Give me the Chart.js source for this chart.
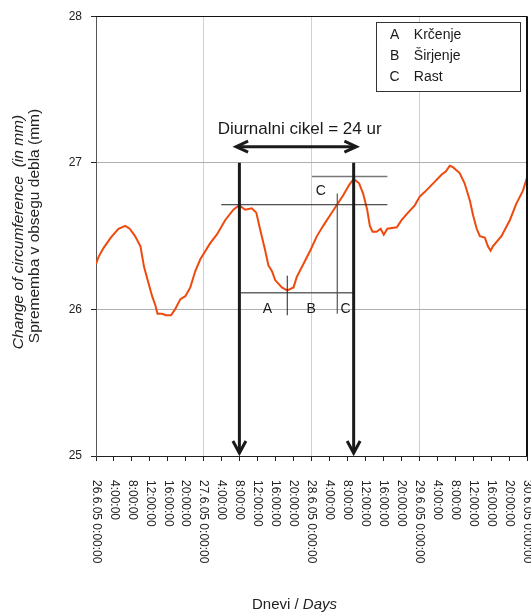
<!DOCTYPE html>
<html><head><meta charset="utf-8">
<script src="https://cdn.jsdelivr.net/npm/chart.js@4.4.0/dist/chart.umd.min.js"></script>
<style>html,body{margin:0;padding:0;background:#fff}canvas{display:block}</style>
</head><body>
<canvas id="c" width="531" height="615"></canvas>
<script>
// ---- data (hours since 26.6.05 0:00 / circumference change in mm) ----
const hours = [0, 0.6, 1.7, 3.3, 5.0, 6.5, 7.5, 8.7, 9.9, 10.7, 11.5, 12.5, 13.2, 13.7, 14.7, 15.6, 16.7, 17.6, 18.8, 19.9,
  21.0, 22.1, 23.2, 25.4, 26.9, 28.8, 30.6, 31.9, 33.2, 34.7, 35.7, 36.6, 37.7, 38.4, 39.2, 39.9, 41.4, 42.6, 44.0, 44.7,
  46.2, 47.7, 49.2, 50.6, 52.1, 53.6, 55.1, 56.4, 57.4, 58.6, 59.5, 60.4, 61.0, 61.6, 62.5, 63.4, 64.1, 64.9, 67.0, 68.1,
  69.5, 71.0, 72.1, 73.2, 75.1, 77.0, 77.9, 78.8, 79.5, 81.0, 82.1, 83.3, 84.0, 84.8, 85.5, 86.6, 87.3, 87.9, 88.4, 90.3,
  92.2, 93.6, 95.1, 96];
const values = [26.31, 26.36, 26.42, 26.49, 26.55, 26.57, 26.55, 26.50, 26.43, 26.29, 26.20, 26.09, 26.03, 25.97, 25.97, 25.96, 25.96, 26.00, 26.07, 26.09,
  26.15, 26.26, 26.34, 26.45, 26.51, 26.61, 26.68, 26.71, 26.68, 26.69, 26.66, 26.54, 26.40, 26.30, 26.26, 26.20, 26.15, 26.13, 26.15, 26.22,
  26.31, 26.40, 26.50, 26.57, 26.64, 26.71, 26.78, 26.85, 26.89, 26.86, 26.79, 26.68, 26.57, 26.53, 26.53, 26.55, 26.51, 26.55, 26.56, 26.61,
  26.66, 26.71, 26.77, 26.80, 26.86, 26.92, 26.94, 26.98, 26.97, 26.93, 26.86, 26.74, 26.64, 26.55, 26.50, 26.49, 26.43, 26.40, 26.43, 26.50,
  26.61, 26.72, 26.81, 26.90];
const tickLabels = ['26.6.05 0:00:00', '4:00:00', '8:00:00', '12:00:00', '16:00:00', '20:00:00',
  '27.6.05 0:00:00', '4:00:00', '8:00:00', '12:00:00', '16:00:00', '20:00:00',
  '28.6.05 0:00:00', '4:00:00', '8:00:00', '12:00:00', '16:00:00', '20:00:00',
  '29.6.05 0:00:00', '4:00:00', '8:00:00', '12:00:00', '16:00:00', '20:00:00',
  '30.6.05 0:00:00'];
const legendLetters = ['A', 'B', 'C'];
const legendNames = ['Krčenje', 'Širjenje', 'Rast'];
const cycleText = 'Diurnalni cikel = 24 ur';
const yTitle1 = 'Change of circumference  (in mm)';
const yTitle2 = 'Sprememba v obsegu debla (mm)';
const xTitleA = 'Dnevi / ';
const xTitleB = 'Days';

const FONT = "'Liberation Sans', Arial, sans-serif";
Chart.defaults.font.family = FONT;

function arrowHead(ctx, tx, ty, dx, dy, len, half) {
  ctx.beginPath();
  ctx.moveTo(tx - dx * len - dy * half, ty - dy * len + dx * half);
  ctx.lineTo(tx, ty);
  ctx.lineTo(tx - dx * len + dy * half, ty - dy * len - dx * half);
  ctx.stroke();
}

const deco = {
  id: 'deco',
  afterDraw(chart) {
    const ctx = chart.ctx, a = chart.chartArea;
    const xs = chart.scales.x, ys = chart.scales.y;
    const X = v => xs.getPixelForValue(v), Y = v => ys.getPixelForValue(v);
    ctx.save();
    // plot border top/right
    ctx.strokeStyle = '#111'; ctx.lineWidth = 1;
    ctx.beginPath(); ctx.moveTo(a.left, Math.round(a.top) + 0.5); ctx.lineTo(a.right, Math.round(a.top) + 0.5); ctx.stroke();
    ctx.lineWidth = 2;
    ctx.beginPath(); ctx.moveTo(a.right, a.top); ctx.lineTo(a.right, a.bottom); ctx.stroke();

    // thin reference lines
    const seg = (x1, y1, x2, y2, col, w) => {
      ctx.strokeStyle = col; ctx.lineWidth = w;
      ctx.beginPath(); ctx.moveTo(X(x1), Y(y1)); ctx.lineTo(X(x2), Y(y2)); ctx.stroke();
    };
    seg(27.9, 26.714, 64.9, 26.714, '#222', 1);
    seg(48.1, 26.907, 64.9, 26.907, '#777', 1.5);
    seg(32.2, 26.113, 57.4, 26.113, '#666', 1.5);
    seg(42.6, 26.23, 42.6, 25.96, '#222', 1);
    seg(53.74, 26.79, 53.74, 25.97, '#555', 1.2);

    // thick verticals with arrowheads
    ctx.strokeStyle = '#1a1a1a'; ctx.lineWidth = 3; ctx.lineJoin = 'miter';
    [31.94, 57.39].forEach(h => {
      const x = X(h);
      ctx.beginPath(); ctx.moveTo(x, Y(27.0)); ctx.lineTo(x, Y(25.02)); ctx.stroke();
      arrowHead(ctx, x, Y(25.02), 0, 1, 12, 6.5);
    });
    // double arrow
    const ya = Y(27.11), xl = X(31.2), xr = X(58.0);
    ctx.beginPath(); ctx.moveTo(xl + 1, ya); ctx.lineTo(xr - 1, ya); ctx.stroke();
    arrowHead(ctx, xl, ya, -1, 0, 12, 5.5);
    arrowHead(ctx, xr, ya, 1, 0, 12, 5.5);

    // texts
    ctx.fillStyle = '#1a1a1a'; ctx.textBaseline = 'middle'; ctx.textAlign = 'center';
    ctx.font = '17px ' + FONT;
    ctx.fillText(cycleText, X(45.35), Y(27.23));
    ctx.font = '14px ' + FONT;
    ctx.fillText('A', X(38.2), Y(26.0));
    ctx.fillText('B', X(47.9), Y(26.0));
    ctx.fillText('C', X(55.6), Y(26.0));
    ctx.fillText('C', X(50.05), Y(26.81));

    // legend box
    const bx1 = X(62.46), bx2 = X(94.53), by1 = Y(27.958), by2 = Y(27.488);
    ctx.fillStyle = '#fff'; ctx.fillRect(bx1, by1, bx2 - bx1, by2 - by1);
    ctx.strokeStyle = '#333'; ctx.lineWidth = 1;
    ctx.strokeRect(Math.round(bx1) + 0.5, Math.round(by1) + 0.5, Math.round(bx2 - bx1), Math.round(by2 - by1));
    ctx.fillStyle = '#1a1a1a'; ctx.font = '14px ' + FONT;
    const rows = [27.873, 27.727, 27.584];
    legendLetters.forEach((l, i) => {
      ctx.textAlign = 'center'; ctx.fillText(l, X(66.5), Y(rows[i]));
      ctx.textAlign = 'left'; ctx.fillText(legendNames[i], X(70.8), Y(rows[i]));
    });

    // x tick labels, rotated clockwise
    ctx.font = '12px ' + FONT; ctx.fillStyle = '#222';
    tickLabels.forEach((t, i) => {
      ctx.save();
      ctx.translate(X(i * 4), a.bottom + 24);
      ctx.rotate(Math.PI / 2);
      ctx.textAlign = 'left'; ctx.textBaseline = 'middle';
      ctx.fillText(t, 0, 0);
      ctx.restore();
    });

    // axis titles
    ctx.fillStyle = '#222';
    ctx.save(); ctx.translate(18.5, 232); ctx.rotate(-Math.PI / 2);
    ctx.textAlign = 'center'; ctx.textBaseline = 'middle';
    ctx.font = 'italic 15.5px ' + FONT; ctx.fillText(yTitle1, 0, 0);
    ctx.restore();
    ctx.save(); ctx.translate(35, 226); ctx.rotate(-Math.PI / 2);
    ctx.textAlign = 'center'; ctx.textBaseline = 'middle';
    ctx.font = '15.5px ' + FONT; ctx.fillText(yTitle2, 0, 0);
    ctx.restore();
    ctx.textAlign = 'left'; ctx.textBaseline = 'middle';
    ctx.font = '15px ' + FONT;
    const wA = ctx.measureText(xTitleA).width;
    ctx.font = 'italic 15px ' + FONT;
    const wB = ctx.measureText(xTitleB).width;
    const tx = 294.5 - (wA + wB) / 2;
    ctx.font = '15px ' + FONT; ctx.fillText(xTitleA, tx, 605);
    ctx.font = 'italic 15px ' + FONT; ctx.fillText(xTitleB, tx + wA, 605);
    ctx.restore();
  }
};

new Chart(document.getElementById('c'), {
  type: 'line',
  data: {
    datasets: [{
      data: hours.map((h, i) => ({ x: h, y: values[i] })),
      borderColor: '#ee4a0e', borderWidth: 2, pointRadius: 0, tension: 0, fill: false
    }]
  },
  options: {
    responsive: false, animation: false,
    layout: { padding: { top: 15, right: 4, left: 0, bottom: 0 } },
    plugins: { legend: { display: false }, tooltip: { enabled: false } },
    scales: {
      x: {
        type: 'linear', min: 0, max: 96,
        afterBuildTicks: s => { s.ticks = tickLabels.map((_, i) => ({ value: i * 4 })); },
        ticks: { display: false, stepSize: 4 },
        grid: {
          color: c => (c.tick && c.tick.value % 24 === 0 && c.tick.value > 0 && c.tick.value < 96) ? '#d0d0d8' : 'rgba(0,0,0,0)',
          tickColor: '#222', tickLength: 5, lineWidth: 1
        },
        border: { color: '#222', width: 1 },
        afterFit: s => { s.height = 615 - 456; }
      },
      y: {
        min: 25, max: 28,
        ticks: { stepSize: 1, color: '#222', font: { size: 12 }, padding: 9 },
        grid: {
          color: c => (c.tick && (c.tick.value === 26 || c.tick.value === 27)) ? '#b0b0b0' : 'rgba(0,0,0,0)',
          tickColor: '#222', tickLength: 5
        },
        border: { color: '#555', width: 1 },
        afterFit: s => { s.width = 96; }
      }
    }
  },
  plugins: [deco]
});
</script>
</body></html>
